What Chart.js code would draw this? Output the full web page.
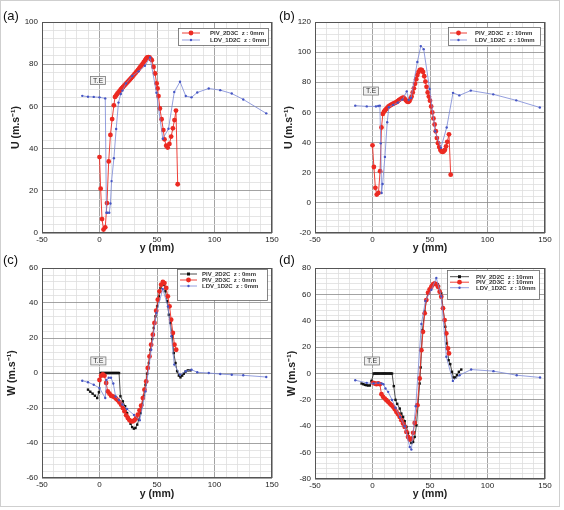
<!DOCTYPE html>
<html>
<head>
<meta charset="utf-8">
<script src="https://cdn.jsdelivr.net/npm/chart.js@4.4.1/dist/chart.umd.min.js"></script>
<style>
  body { margin: 0; background: #fff; }
  #fig { position: relative; width: 564px; height: 510px; overflow: hidden; font-family: 'Liberation Sans', Arial, sans-serif; }
  #frame { position: absolute; left: 0; top: 0; width: 558px; height: 505px; border: 1px solid #cfcfcf; }
  .pan { position: absolute; }
  .lbl { position: absolute; font-size: 13px; color: #111; }
</style>
</head>
<body>
<div id="fig">
  <div id="frame"></div>
  <canvas class="pan" id="ca" width="282" height="255" style="left:0;top:0"></canvas>
  <canvas class="pan" id="cb" width="282" height="255" style="left:282px;top:0"></canvas>
  <canvas class="pan" id="cc" width="282" height="255" style="left:0;top:255px"></canvas>
  <canvas class="pan" id="cd" width="282" height="255" style="left:282px;top:255px"></canvas>
  <div class="lbl" style="left:3px;top:8px">(a)</div>
  <div class="lbl" style="left:279px;top:8px">(b)</div>
  <div class="lbl" style="left:3px;top:252px">(c)</div>
  <div class="lbl" style="left:279px;top:252px">(d)</div>
</div>
<script>
// ---- (a) U, z = 0mm ----
const aPivY = [0,1,2.2,3.5,5,6.5,8,9.5,11,12.5,13.5,14.5,15.5,16.5,17.5,18.5,19.5,20.5,21.5,22.5,23.5,24.5,25.5,26.5,27.5,28.5,29.5,30.5,31.5,32.5,33.5,34.5,35.5,36.5,37.5,38.5,39.5,40.5,41.5,42.5,43.5,44.5,45.5,47,48.3,49.7,50.5,51.3,52.5,54,55.5,56.5,58,59.3,60.8,62.3,63.8,65.2,66.5,68];
const aPivU = [36,21,6.6,1.6,2.7,14.2,33.9,46.5,54,60.5,64.5,65.2,66,66.6,67.3,68,68.6,69.2,69.8,70.4,71,71.6,72.2,72.8,73.4,74,74.6,75.3,76,76.6,77.3,78,78.7,79.4,80.2,81,81.8,82.6,83.2,83.4,83.2,82.5,81.9,78.7,75.6,70.9,68.5,64.9,59,53.9,48.8,44.4,41.4,40.5,42.2,45.7,49.6,53.5,58,23.1];
const aLdvY = [-15,-10,-5,0,5,6,7,8.5,9.5,10.5,12.5,14.5,16.5,18.5,20,23,28.5,34,39.5,44,49.5,55,60,65,70,75,80,85,95,105,115,125,145];
const aLdvU = [65,64.6,64.5,64.3,63.8,9.6,9.6,9.6,14,24.6,35.4,49.3,61.8,65.9,67.5,70.9,74.4,76.6,79.3,83.2,66.5,44.7,49.4,66.8,71.7,64.9,64.3,66.6,68.5,67.7,66.1,63.3,56.7];

// ---- (b) U, z = 10mm ----
const bPivY = [0,1.2,2.5,3.7,5.2,6.6,7.8,9,10,11,12,13,14,15,16,17,18,19,20,21,22,23,24,25,26,27,28,29,30,31,32,33,34,35,36,37,38,39,40,41,42,43,44,45,46,47,48,49,50,51,52,53,54,55,56,57,58,59,60,61,62,63,64,65,66.5,68];
const bPivU = [38.2,23.8,10,5.5,6.6,21,50,59,60.5,61.5,62.3,63.2,64,64.5,65,65.4,65.8,66.2,66.5,67,67.5,68.2,68.7,69.2,69.6,69.8,69,68,67.3,67,67.5,69,70.5,73.3,76,79,82,84.8,86.8,88,88.4,88,86.8,84,80.5,77,73.3,70.5,67.8,64,60,56,52,47.5,43,39.6,37,35,34,33.8,34.2,35.2,37.5,40.5,45.5,18.7];
const bLdvY = [-15,-5,3,5,6.4,7.2,7.9,8.8,10.8,12.8,14.2,18,22,26,29.8,31.5,33.5,39,42,44.5,49.7,54.5,59.5,64.5,70,75.5,85.5,105,125,145.5];
const bLdvU = [64.5,64,64,64.3,64.5,39.5,6.5,12.5,30.5,53.5,63.5,65,66.5,68.5,74,68.2,69.6,93.5,104,102,75.5,47.5,36.5,50,73,71.3,74.5,72,68,63.3];

// ---- (c) W, z = 0mm ----
const c2dY = [-10,-8,-6,-4,-2,-0.5,1,2,3,4,5,6,7,8,9,10,11,12,13,14,15,16,17,18.2,20.3,22.3,24,25.5,27,28.4,29.9,31.3,32.8,34.2,35.7,37.1,38.6,40,41.4,42.9,44.3,45.8,47.2,48.7,50.1,51.6,53,54.5,55.9,57.4,58.8,60.3,61.7,63.2,64.6,66.1,67.5,69,70.4,71.9,73.3,74.8,76.8,79];
const c2dW = [-9.5,-10.7,-11.8,-13,-14.3,-11,0,0,0,0,0,0,0,0,0,0,0,0,0,0,0,0,0,-13.3,-16.2,-19,-22.9,-25.7,-29,-30.9,-31.8,-31.4,-29.5,-26.7,-22.9,-18.1,-13,-6.7,-0.4,5.7,13.3,19.4,25.7,32.4,38.1,43.8,48.6,51,50.5,46.7,41,33.3,28.6,21,11.4,5.7,1,-1.5,-2.5,-1.5,-0.4,0.8,1.5,1.5];
const c3dY = [0,1.4,2.9,4.3,5.8,7.2,8.7,10.1,11.6,13,14.5,15.9,17.4,18.8,20.3,21.7,23.2,24.6,26.1,27.5,29,30.4,31.9,33.3,34.8,36.2,37.7,39.1,40.6,42,43.5,44.9,46.4,47.8,49.3,50.7,52.2,53.6,55.1,56.5,58,59.4,60.9,62.3,63.8,65.2,66.7];
const c3dW = [-4,-1.5,-0.8,-1.5,-5.7,-10.5,-11.8,-13,-13.3,-13.9,-14.7,-15.6,-16.8,-18.1,-20,-21.9,-24.2,-25.7,-27,-27.6,-27.6,-27,-25.7,-23.8,-21.3,-18.7,-14.3,-9.5,-4.8,2.9,9.5,16.2,21.9,28.6,35.6,41.9,46.7,50.5,52,51.4,48.6,43.8,38.1,30.5,22.9,16.2,13.3];
const cLdvY = [-15,-10,-5,0,5,6,8,10,12,14,17,20,24,30,35,40,45,49.5,55,59.5,62.5,65,70,75,80,85,95,105,115,125,145];
const cLdvW = [-4.4,-5.3,-6.7,-8.6,-14.3,-4,-2.7,-2.7,-6,-13.4,-15.4,-18,-20.6,-24,-27,-10.5,13.3,34.3,48,38,21,4.8,-1,1,1.9,0.4,0,-0.6,-1,-1.3,-2.3];

// ---- (d) W, z = 10mm ----
const d2dY = [-9.5,-8,-6.6,-5.2,-3.8,-2.3,-0.9,1,2,3,4,5,6,7,8,9,10,11,12,13,14,15,16,17,18.5,20,21.5,23.7,25.1,26.6,28,29.5,30.9,32.4,33.8,35.3,36.7,38.2,39.6,41,41.9,42.6,43.4,45.4,46.8,48.2,49.7,51.1,52.6,54,55.5,56.7,57.8,59.8,61.3,63.3,64.7,66.2,67.6,69.1,70.5,72,73.4,75.1,77.2];
const d2dW = [-7.6,-8.1,-8.6,-8.9,-9.1,-9.1,-5.6,0,0,0,0,0,0,0,0,0,0,0,0,0,0,0,0,0,-9.6,-20,-23,-26.6,-30.4,-32.9,-36.2,-40.5,-45,-49.4,-52.7,-51.9,-48.1,-39.2,-24,-7.6,4.6,18,32.9,46.8,55.7,60.5,63.8,65.8,67.1,68,68.4,67.7,66.3,60.8,50.1,35.4,22.8,10.1,7.1,1.3,-3,-3,-1.3,1.3,3];
const d3dY = [0.6,2,3.5,4.9,6.4,7.8,9.2,10.7,12.1,13.6,15,16.5,17.9,19.4,20.8,22.3,23.7,25.1,26.6,28,29.5,30.9,32.4,33.8,35.3,36.7,39,41,42.5,43.9,45.4,46.8,48.3,49.7,51.2,52.6,54,55.5,56.9,58.4,59.8,61.3,62.7,64.2,65.6,66.5];
const d3dW = [-7.1,-7.6,-8.1,-7.6,-8.1,-15.7,-17.7,-19,-20.3,-21.5,-22.8,-24,-25.3,-27.1,-29.1,-30.9,-32.9,-35.4,-38,-40.5,-44.3,-48.1,-50.1,-49.4,-45,-37.5,-24,-3.8,17.7,31.6,45.6,55.7,61.3,63.8,65.8,67.6,68.4,67.6,65.8,62,58.2,49.4,40.5,30.4,19,15.2];
const dLdvY = [-15,-5,1,5,8,9.5,11.3,13.6,17,20,24,28,32.4,33.8,37.6,42.5,46,51.2,55.5,59.8,64.2,69.9,75.7,85.8,105.2,125.4,145.7];
const dLdvW = [-5.1,-7.1,-7.6,-7.1,-7.6,-8.1,-11.4,-13.9,-20,-26,-33,-40,-55.7,-57.7,-24.8,37.5,55,63.5,72.4,58.5,12.7,-5.6,-1.3,3,1.8,-1.3,-3];

const FONT = "'Liberation Sans', Arial, sans-serif";
const MAJOR = '#8c8c8c';
const MINOR = '#dedede';
const RED = '#ec2a22';
const BLUE = '#4656c4';

const pts = (xs, ys) => xs.map((x, i) => ({ x, y: ys[i] }));

// series styles
function piv2d(label, xs, ys) {
  return { label, data: pts(xs, ys), showLine: true, order: 2,
    borderColor: '#222', borderWidth: 0.8, backgroundColor: '#111',
    pointStyle: 'rect', pointRadius: 1.7, pointBorderWidth: 0 };
}
function piv3d(label, xs, ys) {
  return { label, data: pts(xs, ys), showLine: true, order: 1,
    borderColor: RED, borderWidth: 0.9, backgroundColor: RED,
    pointStyle: 'circle', pointRadius: 2.4, pointBorderWidth: 0 };
}
function ldv(label, xs, ys) {
  return { label, data: pts(xs, ys), showLine: true, order: 0,
    borderColor: '#7886d6', borderWidth: 0.8, backgroundColor: BLUE,
    pointStyle: 'circle', pointRadius: 1.2, pointBorderWidth: 0 };
}

// frame, T.E box and the in-plot legend
const deco = {
  id: 'deco',
  beforeDatasetsDraw(chart) {
    const a = chart.chartArea, ctx = chart.ctx;
    ctx.save();
    ctx.strokeStyle = '#555';
    ctx.lineWidth = 1;
    ctx.strokeRect(Math.round(a.left) + 0.5, Math.round(a.top) + 0.5, Math.round(a.width) - 1, Math.round(a.height) - 1);
    ctx.restore();
  },
  afterDatasetsDraw(chart, args, o) {
    const ctx = chart.ctx, a = chart.chartArea;
    ctx.save();
    // T.E label
    const px = chart.scales.x.getPixelForValue(o.te[0]);
    const py = chart.scales.y.getPixelForValue(o.te[1]);
    ctx.font = '7px ' + FONT;
    const tw = ctx.measureText('T.E').width;
    ctx.fillStyle = '#f1f1f1';
    ctx.strokeStyle = '#7a7a7a';
    ctx.lineWidth = 0.8;
    ctx.fillRect(px - tw / 2 - 2.5, py - 4, tw + 5, 8);
    ctx.strokeRect(px - tw / 2 - 2.5, py - 4, tw + 5, 8);
    ctx.fillStyle = '#333';
    ctx.textAlign = 'center';
    ctx.textBaseline = 'middle';
    ctx.fillText('T.E', px, py + 0.5);

    // legend box
    const L = o.legend;
    const bx = a.right - L.right - L.w, by = a.top + L.top;
    ctx.fillStyle = '#fff';
    ctx.fillRect(bx, by, L.w, L.h);
    ctx.strokeStyle = '#666';
    ctx.lineWidth = 0.8;
    ctx.strokeRect(bx + 0.5, by + 0.5, L.w, L.h);
    ctx.font = 'bold 6px ' + FONT;
    ctx.textAlign = 'left';
    chart.data.datasets.forEach((d, i) => {
      const cy = by + L.row0 + i * L.rowH;
      ctx.strokeStyle = d.borderColor;
      ctx.lineWidth = d.borderWidth;
      ctx.beginPath();
      ctx.moveTo(bx + L.l0, cy);
      ctx.lineTo(bx + L.l1, cy);
      ctx.stroke();
      const mx = (L.l0 + L.l1) / 2 + bx;
      ctx.fillStyle = d.backgroundColor;
      if (d.pointStyle === 'rect') {
        ctx.fillRect(mx - 1.5, cy - 1.5, 3, 3);
      } else {
        ctx.beginPath();
        ctx.arc(mx, cy, d.pointRadius, 0, Math.PI * 2);
        ctx.fill();
      }
      ctx.fillStyle = '#333';
      ctx.fillText(d.label, bx + L.tx, cy + 0.5);
    });
    ctx.restore();
  }
};

function panel(id, p) {
  new Chart(document.getElementById(id), {
    type: 'scatter',
    data: { datasets: p.datasets },
    plugins: [deco],
    options: {
      responsive: false,
      animation: false,
      events: [],
      layout: { padding: { left: 0, top: p.area[1], right: 282 - p.area[2], bottom: 0 } },
      plugins: {
        legend: { display: false },
        tooltip: { enabled: false },
        deco: { te: p.te, legend: p.legend }
      },
      scales: {
        x: {
          type: 'linear', min: -50, max: 150,
          afterFit: s => { s.height = 255 - p.area[3]; },
          ticks: { stepSize: 10, autoSkip: false, maxRotation: 0, padding: 2, color: '#222',
            font: { size: 8, family: FONT },
            callback: v => (v % 50 === 0 ? v : '') },
          grid: { color: c => (c.tick && c.tick.value % 50 === 0 ? MAJOR : MINOR), drawTicks: false, lineWidth: 0.8 },
          border: { display: false },
          title: { display: true, text: 'y (mm)', color: '#222',
            font: { size: 10.5, weight: 'bold', family: FONT }, padding: { top: 0, bottom: p.xtPad } }
        },
        y: {
          type: 'linear', min: p.ymin, max: p.ymax,
          afterFit: s => { s.width = p.area[0]; },
          ticks: { stepSize: 4, autoSkip: false, padding: 4, color: '#222',
            font: { size: 8, family: FONT },
            callback: v => (v % 20 === 0 ? v : '') },
          grid: { color: c => (c.tick && c.tick.value % 20 === 0 ? MAJOR : MINOR), drawTicks: false, lineWidth: 0.8 },
          border: { display: false },
          title: { display: true, text: p.ytitle, color: '#222',
            font: { size: 10.5, weight: 'bold', family: FONT }, padding: { top: p.ytPad, bottom: 0 } }
        }
      }
    }
  });
}

panel('ca', {
  area: [42, 22, 272, 233], ymin: 0, ymax: 100, ytitle: 'U (m.s\u207B\u00B9)', xtPad: 1, ytPad: 10,
  te: [-1.3, 72.3],
  legend: { right: 4, top: 6, w: 90, h: 17, row0: 5, rowH: 7, l0: 4, l1: 22, tx: 32 },
  datasets: [
    piv3d('PIV_2D3C  z : 0mm', aPivY, aPivU),
    ldv('LDV_1D2C  z : 0mm', aLdvY, aLdvU)
  ]
});
panel('cb', {
  area: [33, 22, 263, 233], ymin: -20, ymax: 120, ytitle: 'U (m.s\u207B\u00B9)', xtPad: 1, ytPad: 1.2,
  te: [-1.3, 74.2],
  legend: { right: 5, top: 5, w: 92, h: 18, row0: 6, rowH: 7, l0: 2, l1: 19, tx: 27 },
  datasets: [
    piv3d('PIV_2D3C  z : 10mm', bPivY, bPivU),
    ldv('LDV_1D2C  z : 10mm', bLdvY, bLdvU)
  ]
});
panel('cc', {
  area: [42, 13, 272, 223], ymin: -60, ymax: 60, ytitle: 'W (m.s\u207B\u00B9)', xtPad: 10, ytPad: 5.7,
  te: [-1, 6.9],
  legend: { right: 5, top: 1, w: 90, h: 31, row0: 5, rowH: 6, l0: 3, l1: 20, tx: 25 },
  datasets: [
    piv2d('PIV_2D2C  z : 0mm', c2dY, c2dW),
    piv3d('PIV_2D3C  z : 0mm', c3dY, c3dW),
    ldv('LDV_1D2C  z : 0mm', cLdvY, cLdvW)
  ]
});
panel('cd', {
  area: [33, 13, 263, 224], ymin: -80, ymax: 80, ytitle: 'W (m.s\u207B\u00B9)', xtPad: 10, ytPad: 3.7,
  te: [-0.4, 9.5],
  legend: { right: 6, top: 2, w: 92, h: 29, row0: 6.7, rowH: 5.5, l0: 3, l1: 22, tx: 29 },
  datasets: [
    piv2d('PIV_2D2C  z : 10mm', d2dY, d2dW),
    piv3d('PIV_2D3C  z : 10mm', d3dY, d3dW),
    ldv('LDV_1D2C  z : 10mm', dLdvY, dLdvW)
  ]
});
</script>
</body>
</html>
